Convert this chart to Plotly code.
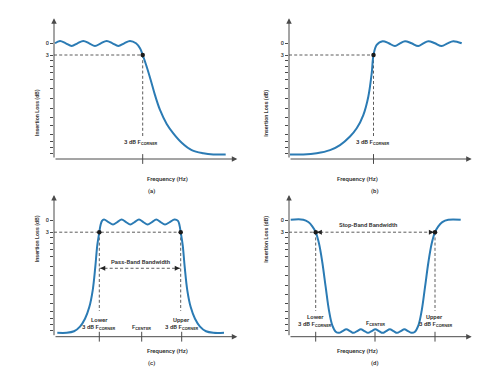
import plotly.graph_objects as go

# ---------------- data (x = frequency position, y = insertion loss in dB) ----------------
A_X = [1, 6, 11.8, 17.7, 23.5, 29.3, 35.2, 41, 46.8, 52.7, 58.5, 64.3, 70.2, 76, 82, 86, 88.7,
       92.7, 96.7, 101, 106, 112.7, 119.3, 127.7, 137.7, 149.3, 159.3, 171.7]
A_Y = [0, -0.6, 0, 0.7, 0, -0.6, 0, 0.7, 0, -0.6, 0, 0.7, 0, -0.6, 0, 1.3, 3,
       6, 9.4, 13.3, 17.1, 20.7, 23.1, 25.5, 27.4, 28.2, 28.5, 28.5]

B_X = [1, 14.3, 27.7, 41, 51, 61, 67.7, 74.3, 79.3, 82.7, 84.5, 87.7, 93.7, 99.8, 106, 111,
       116, 122.6, 129.3, 134.3, 139.3, 146, 152.7, 158.5, 164.3, 172.7]
B_Y = [28.5, 28.5, 28.2, 27.4, 26.1, 23.9, 21.8, 18.4, 13.7, 7.7, 3, 0.4, -0.55, 0, 0.7, 0,
       -0.55, 0, 0.7, 0, -0.55, 0, 0.7, 0, -0.55, 0]

C_X = [3.3, 12.7, 20, 26, 31, 35.3, 38.7, 41.3, 43.3, 45.3, 46.5, 48, 50, 54.5, 59, 63.3,
       67.6, 72, 76.3, 80.6, 85, 89.3, 93.6, 98, 102.3, 106.6, 111, 115.8, 120.5, 124,
       125.5, 126.7, 128.7, 130.7, 133.3, 136.7, 141, 146, 152, 159.3, 170]
C_Y = [28.8, 28.8, 28.4, 27.2, 25.2, 22.2, 17.9, 11.9, 6.3, 3, 1.2, 0.1, -0.25, 0.4, 1.0, 0.4,
       -0.25, 0.4, 1.0, 0.4, -0.25, 0.4, 1.0, 0.4, -0.25, 0.4, 1.0, 0.4, -0.25, 0.1,
       1.2, 3, 6.3, 11.9, 17.9, 22.2, 25.2, 27.2, 28.4, 28.8, 28.8]

D_X = [1.7, 14.3, 19.3, 23.3, 26.7, 30, 33.3, 36.7, 40, 43.3, 46.7, 50, 53.6, 57.3, 61,
       64.5, 68.2, 71.8, 75.4, 79, 82.7, 86.3, 90, 93.6, 97.2, 100.8, 104.5, 108.1, 111.8,
       115.4, 119, 122.7, 126, 129.4, 132.7, 136, 139.4, 142.7, 146, 149.3, 153.3, 159.3, 171.7]
D_Y = [-0.2, -0.2, 0.4, 1.5, 3, 5.9, 10.7, 17.1, 23.1, 26.9, 28.5, 28.8, 28.35, 27.9, 28.35,
       28.8, 28.35, 27.9, 28.35, 28.8, 28.35, 27.9, 28.35, 28.8, 28.35, 27.9, 28.35, 28.8, 28.35,
       27.9, 28.35, 28.8, 28.5, 26.9, 23.1, 17.1, 10.7, 5.9, 3, 1.5, 0.4, -0.2, -0.2]

# corner frequencies (3 dB points) and x-axis tick positions
A_CORNERS = [88.7]
B_CORNERS = [84.5]
C_CORNERS = [45.3, 126.7]
D_CORNERS = [26.7, 146]
A_XTICKS = [88.7]
B_XTICKS = [84.5]
C_XTICKS = [45.3, 87.7, 127.7]
D_XTICKS = [26.7, 86, 146]
CORNER_LEVEL = 3

Y_TICK_VALS = [0, 3, 4.3, 5.85, 7.4, 9.2, 11.7, 14.2, 16.7, 19.1, 21.2, 23.3, 25.1, 26.7, 28.3]
Y_TICK_TEXT = ["0", "3"] + [""] * 13

X_TITLE = "Frequency (Hz)"
Y_TITLE = "Insertion Loss (dB)"
PANEL_NAMES = ["(a)", "(b)", "(c)", "(d)"]
CORNER_LABEL = "3 dB F<sub>CORNER</sub>"
CENTER_LABEL = "F<sub>CENTER</sub>"

# ---------------- layout geometry (window pixels) ----------------
OFF = 8                      # default page margin around the plot div
W, H = 500 - OFF, 381 - OFF  # figure size so that it fits the window
PXDB = 3.9
BLUE = "#2b7bb4"
GREY = "#4a4a4a"
TXT = "#333333"
FONT = "Roboto"
DASH = "3px,2.2px"

# (x_left, x_tip, y_tip, y_axis, y_of_0dB) in window pixels
GEOM = [
    (54, 237.3, 18.3, 159.0, 43.3),
    (289, 471.7, 18.3, 159.0, 43.3),
    (54, 237.3, 195.0, 336.7, 220.5),
    (289, 471.7, 195.0, 336.7, 220.5),
]

curves = [(A_X, A_Y), (B_X, B_Y), (C_X, C_Y), (D_X, D_Y)]
corners = [A_CORNERS, B_CORNERS, C_CORNERS, D_CORNERS]
xticks = [A_XTICKS, B_XTICKS, C_XTICKS, D_XTICKS]


def px(x):
    return (x - OFF) / W


def py(y):
    return 1 - (y - OFF) / H


def tfont(size=6, weight=600):
    return dict(family=FONT, size=size, color=TXT, weight=weight)


fig = go.Figure()
layout = dict(width=W, height=H, margin=dict(l=0, r=0, t=0, b=0),
              paper_bgcolor="white", plot_bgcolor="white", showlegend=False,
              font=dict(family=FONT, size=6, color=TXT))
annotations = []

for i, (x0, x1, yt, ya, y0) in enumerate(GEOM):
    n = i + 1
    sx = "" if n == 1 else str(n)
    xr, yr = "x" + sx, "y" + sx
    xmax = x1 - x0
    ybot = (ya - y0) / PXDB
    ytop = (yt - y0) / PXDB
    layout["xaxis" + sx] = dict(domain=[px(x0), px(x1)], range=[0, xmax], anchor=yr,
                               showgrid=False, zeroline=False, showline=False,
                               showticklabels=False, ticks="", fixedrange=True)
    layout["yaxis" + sx] = dict(domain=[py(ya), py(yt)], range=[ybot, ytop], anchor=xr,
                               showgrid=False, zeroline=False, showline=False,
                               tickvals=Y_TICK_VALS, ticktext=Y_TICK_TEXT, ticks="outside",
                               ticklen=3, tickwidth=0.9, tickcolor=GREY,
                               tickfont=tfont(5.5, 500), fixedrange=True)
    # axes with arrowheads
    annotations.append(dict(x=xmax, y=ybot, ax=0, ay=ybot, xref=xr, yref=yr, axref=xr, ayref=yr,
                            showarrow=True, arrowhead=2, arrowsize=1.1, arrowwidth=1,
                            arrowcolor=GREY, text=""))
    annotations.append(dict(x=0, y=ytop, ax=0, ay=ybot, xref=xr, yref=yr, axref=xr, ayref=yr,
                            showarrow=True, arrowhead=2, arrowsize=1.1, arrowwidth=1,
                            arrowcolor=GREY, text=""))

    cx = corners[i]
    # horizontal dashed line at 3 dB from the y axis to the outermost corner
    fig.add_trace(go.Scatter(x=[0, max(cx)], y=[CORNER_LEVEL, CORNER_LEVEL], mode="lines",
                             line=dict(color=GREY, width=0.9, dash=DASH),
                             xaxis=xr, yaxis=yr, hoverinfo="skip"))
    # vertical dashed lines down from each corner
    vlen = 24 if i < 2 else 23.2
    for c in cx:
        fig.add_trace(go.Scatter(x=[c, c], y=[CORNER_LEVEL, vlen], mode="lines",
                                 line=dict(color=GREY, width=0.9, dash=DASH),
                                 xaxis=xr, yaxis=yr, hoverinfo="skip"))
    # curve
    X, Y = curves[i]
    fig.add_trace(go.Scatter(x=X, y=Y, mode="lines",
                             line=dict(color=BLUE, width=2, shape="spline", smoothing=1.0),
                             xaxis=xr, yaxis=yr, hoverinfo="skip"))
    # corner dots
    fig.add_trace(go.Scatter(x=cx, y=[CORNER_LEVEL] * len(cx), mode="markers",
                             marker=dict(color="#1a1a1a", size=4.5),
                             xaxis=xr, yaxis=yr, hoverinfo="skip", cliponaxis=False))
    # x-axis tick marks (crossing the axis)
    fig.add_trace(go.Scatter(x=xticks[i], y=[ybot] * len(xticks[i]), mode="markers",
                             marker=dict(symbol="line-ns", size=7,
                                         line=dict(color=GREY, width=1)),
                             xaxis=xr, yaxis=yr, hoverinfo="skip", cliponaxis=False))

    # titles
    annotations.append(dict(x=px(x0 + 91), y=py(ya + 20), xref="paper", yref="paper",
                            text=X_TITLE, showarrow=False, font=tfont(6)))
    annotations.append(dict(x=px(x0 + 92), y=py(ya + 32), xref="paper", yref="paper",
                            text=PANEL_NAMES[i], showarrow=False, font=tfont(6)))
    annotations.append(dict(x=px(x0 - 22.5), y=py((yt + ya) / 2 - 1),
                            xref="paper", yref="paper", text=Y_TITLE, textangle=-90,
                            showarrow=False, font=tfont(5.5)))


def lab(n, x, y, text, size=6):
    sx = "" if n == 1 else str(n)
    annotations.append(dict(x=x, y=y, xref="x" + sx, yref="y" + sx, text=text,
                            showarrow=False, font=tfont(size)))


def arrow(n, x, y, ax, size=1.1):
    sx = "" if n == 1 else str(n)
    annotations.append(dict(x=x, y=y, ax=ax, ay=y, xref="x" + sx, yref="y" + sx,
                            axref="x" + sx, ayref="y" + sx, showarrow=True, arrowhead=2,
                            arrowsize=size, arrowwidth=0.9, arrowcolor="#222", text=""))


# (a)
lab(1, 86.5, 25.3, CORNER_LABEL)
# (b)
lab(2, 84.0, 25.3, CORNER_LABEL)
# (c)
lab(3, 86.5, 10.4, "Pass-Band Bandwidth")
fig.add_trace(go.Scatter(x=C_CORNERS, y=[12.25, 12.25], mode="lines",
                         line=dict(color=GREY, width=0.9, dash=DASH),
                         xaxis="x3", yaxis="y3", hoverinfo="skip"))
arrow(3, C_CORNERS[0] + 1.0, 12.25, C_CORNERS[0] + 5)
arrow(3, C_CORNERS[1] - 1.0, 12.25, C_CORNERS[1] - 5)
lab(3, 45.3, 25.3, "Lower")
lab(3, 45.0, 27.2, CORNER_LABEL)
lab(3, 127.7, 25.3, "Upper")
lab(3, 128.3, 27.2, CORNER_LABEL)
lab(3, 87.7, 27.3, CENTER_LABEL)
# (d)
lab(4, 79.3, 1.0, "Stop-Band Bandwidth")
arrow(4, D_CORNERS[0] + 1.2, 3, D_CORNERS[0] + 6)
arrow(4, D_CORNERS[1] - 1.2, 3, D_CORNERS[1] - 6)
lab(4, 26.0, 24.7, "Lower")
lab(4, 25.5, 26.5, CORNER_LABEL)
lab(4, 145.3, 24.7, "Upper")
lab(4, 146.8, 26.5, CORNER_LABEL)
lab(4, 86.0, 26.3, CENTER_LABEL)

layout["annotations"] = annotations
fig.update_layout(**layout)
fig.write_html("out.html")
